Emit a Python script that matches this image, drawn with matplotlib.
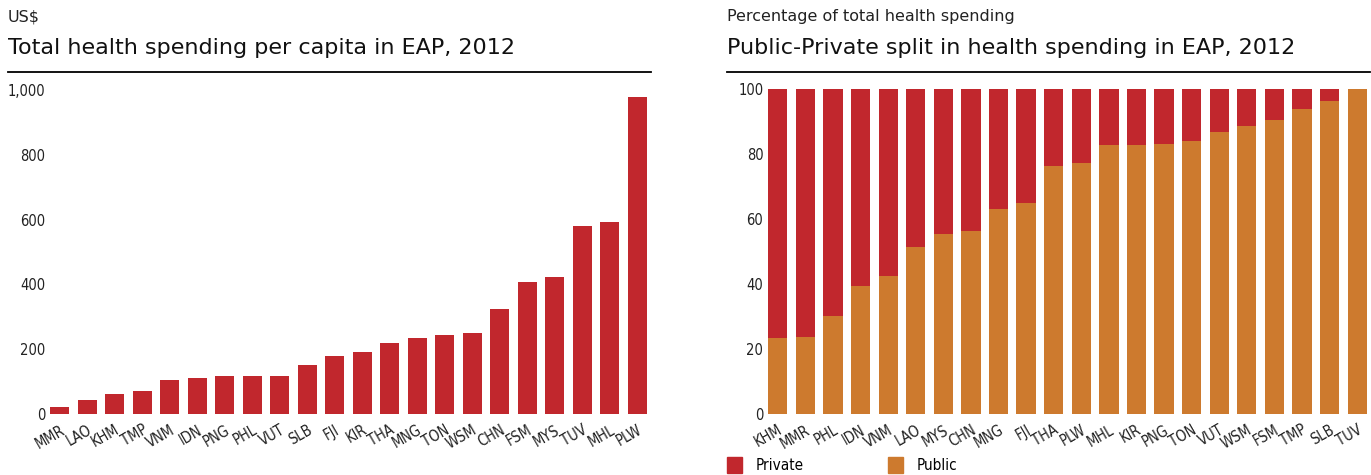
import matplotlib.pyplot as plt
from matplotlib.lines import Line2D
from matplotlib.patches import Patch
from matplotlib import font_manager

# left chart: total health spending per capita (US$)
spend_countries = ["MMR", "LAO", "KHM", "TMP", "VNM", "IDN", "PNG", "PHL", "VUT", "SLB", "FJI",
                   "KIR", "THA", "MNG", "TON", "WSM", "CHN", "FSM", "MYS", "TUV", "MHL", "PLW"]
spend_values = [22, 43, 62, 71, 105, 111, 117, 117, 117, 151, 179,
                191, 219, 235, 244, 250, 324, 407, 423, 580, 593, 978]

# right chart: public share of total health spending (%)
split_countries = ["KHM", "MMR", "PHL", "IDN", "VNM", "LAO", "MYS", "CHN", "MNG", "FJI", "THA",
                   "PLW", "MHL", "KIR", "PNG", "TON", "VUT", "WSM", "FSM", "TMP", "SLB", "TUV"]
public_share = [23.4, 23.7, 30.2, 39.4, 42.5, 51.4, 55.4, 56.3, 63.0, 65.0, 76.3,
                77.2, 82.8, 82.8, 83.1, 84.0, 86.8, 88.6, 90.5, 93.8, 96.3, 100.0]
private_share = [100 - p for p in public_share]

RED = "#C1272D"
ORANGE = "#CD7A2E"
W, H = 1371, 475

narrow = font_manager.FontProperties(family="DejaVu Sans", stretch="condensed", size=10.5)

fig = plt.figure(figsize=(W / 100, H / 100), dpi=100)

def place(x0, y0, x1, y1):
    # pixel box -> figure fraction
    return [x0 / W, 1 - y1 / H, (x1 - x0) / W, (y1 - y0) / H]

ax1 = fig.add_axes(place(46, 90, 651, 414))
ax2 = fig.add_axes(place(764, 89, 1371, 414))

x1 = range(len(spend_countries))
ax1.bar(x1, spend_values, width=0.7, color=RED)
ax1.set_xlim(-0.5, len(spend_countries) - 0.5)
ax1.set_ylim(0, 1000)
ax1.set_yticks([0, 200, 400, 600, 800, 1000])
ax1.set_yticklabels(["0", "200", "400", "600", "800", "1,000"])

x2 = range(len(split_countries))
ax2.bar(x2, public_share, width=0.7, color=ORANGE, label="Public")
ax2.bar(x2, private_share, bottom=public_share, width=0.7, color=RED, label="Private")
ax2.set_xlim(-0.5, len(split_countries) - 0.5)
ax2.set_ylim(0, 100)
ax2.set_yticks([0, 20, 40, 60, 80, 100])

for ax, labels in [(ax1, spend_countries), (ax2, split_countries)]:
    ax.set_xticks(range(len(labels)))
    ax.set_xticklabels(labels, rotation=30, ha="right", rotation_mode="anchor",
                       fontproperties=narrow, color="#222222")
    for s in ax.spines.values():
        s.set_visible(False)
    ax.tick_params(length=0)
    ax.tick_params(axis="x", pad=6)
    ax.tick_params(axis="y", pad=0.5)
    for t in ax.get_yticklabels():
        t.set_fontproperties(narrow)
        t.set_color("#222222")

# headers
fig.text(8 / W, 1 - 17 / H, "US$", fontsize=11.5, va="center", color="#222222")
fig.text(8 / W, 1 - 48 / H, "Total health spending per capita in EAP, 2012",
         fontsize=16, va="center", color="#111111")
fig.text(727 / W, 1 - 17 / H, "Percentage of total health spending", fontsize=11.5,
         va="center", color="#222222")
fig.text(727 / W, 1 - 48 / H, "Public-Private split in health spending in EAP, 2012",
         fontsize=16, va="center", color="#111111")
fig.add_artist(Line2D([8 / W, 651 / W], [1 - 72 / H] * 2, color="black", lw=1.3))
fig.add_artist(Line2D([727 / W, 1370 / W], [1 - 72 / H] * 2, color="black", lw=1.3))

# legend
handles = [Patch(color=RED, label="Private"), Patch(color=ORANGE, label="Public")]
leg_font = font_manager.FontProperties(family="DejaVu Sans", stretch="condensed", size=11)
fig.legend(handles=handles, loc="center left", bbox_to_anchor=(713 / W, 1 - 465 / H),
           ncol=2, frameon=False, prop=leg_font,
           handlelength=1.0, handleheight=1.3, columnspacing=5.5, handletextpad=0.9)

fig.savefig("out.png", dpi=100)
